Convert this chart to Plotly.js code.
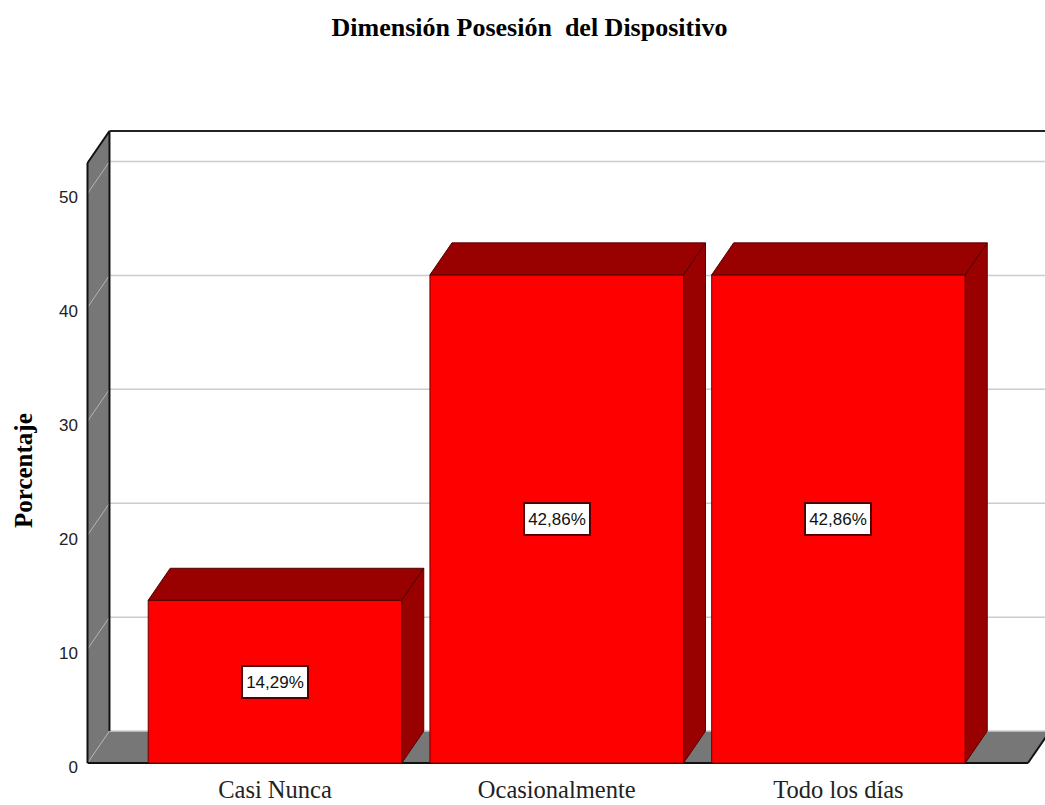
<!DOCTYPE html>
<html>
<head>
<meta charset="utf-8">
<script src="https://cdn.plot.ly/plotly-3.0.1.min.js"></script>
<style>html,body{margin:0;padding:0;background:#fff}#chart{width:1045px;height:805px}</style>
</head>
<body>
<div id="chart"></div>
<script>
const categories = ["Casi Nunca", "Ocasionalmente", "Todo los días"];
const positions = [1, 2, 3];
const percentages = [14.29, 42.86, 42.86];
const valueLabels = ["14,29%", "42,86%", "42,86%"];
const yTicks = [0, 10, 20, 30, 40, 50];

const barWidth = 0.9;
const depthX = 0.078;
const depthY = 2.81;
const wallLeft = 0.3345;
const floorRight = 3.6726;
const wallTop = 52.68;
const xRange = [0.3221, 3.733];
const yRange = [-0.26, 55.93];

const poly = pts => "M" + pts.map(p => p[0] + "," + p[1]).join(" L") + " Z";
const shapes = [];
const fillShape = (pts, fill) => shapes.push({type:"path", xref:"x", yref:"y", layer:"below",
  path: poly(pts), fillcolor: fill, line:{width:0}});
const lineShape = (x0,y0,x1,y1,color,width) => shapes.push({type:"line", xref:"x", yref:"y", layer:"below",
  x0,y0,x1,y1, line:{color,width}});

const wallBack = wallLeft + depthX;
// side wall and floor
fillShape([[wallLeft,0],[wallBack,depthY],[wallBack,wallTop+depthY],[wallLeft,wallTop]], "#777777");
fillShape([[wallLeft,0],[floorRight,0],[floorRight+depthX,depthY],[wallBack,depthY]], "#777777");
// gridlines on the back wall, continuing across the side wall
yTicks.forEach(t => {
  lineShape(wallBack, t+depthY, xRange[1], t+depthY, "#cccccc", 1.5);
  lineShape(wallLeft, t, wallBack, t+depthY, "#b4b4b4", 1);
});
// frame
lineShape(wallLeft, 0, wallLeft, wallTop, "#111111", 2);
lineShape(wallBack, depthY, wallBack, wallTop+depthY, "#111111", 2);
lineShape(wallLeft, wallTop, wallBack, wallTop+depthY, "#111111", 2);
lineShape(wallBack, wallTop+depthY, xRange[1], wallTop+depthY, "#222222", 2);
lineShape(wallLeft, 0, floorRight, 0, "#111111", 2);
lineShape(floorRight, 0, floorRight+depthX, depthY, "#111111", 2);

// top and side faces of every bar
const faceTraces = [];
positions.forEach((x,i) => {
  const v = percentages[i], l = x-barWidth/2, r = x+barWidth/2;
  const face = (xs,ys) => faceTraces.push({type:"scatter", mode:"lines", x:xs, y:ys, fill:"toself",
    fillcolor:"#990000", line:{color:"#550000", width:1}, hoverinfo:"skip", showlegend:false, cliponaxis:false});
  face([l, r, r+depthX, l+depthX, l], [v, v, v+depthY, v+depthY, v]);
  face([r, r+depthX, r+depthX, r, r], [0, depthY, v+depthY, v, 0]);
});

const bars = {type:"bar", x:positions, y:percentages, width:barWidth,
  marker:{color:"#ff0000", line:{color:"#660000", width:1}}, hoverinfo:"skip", showlegend:false};

const annotations = positions.map((x,i) => ({
  x, y: percentages[i]/2, xref:"x", yref:"y", text: valueLabels[i], showarrow:false,
  font:{family:"Liberation Sans", size:17, color:"#111111"},
  bgcolor:"#ffffff", bordercolor:"#550000", borderwidth:2, borderpad:0, width:64, height:30,
  xanchor:"center", yanchor:"middle"
}));
annotations.push({
  xref:"paper", yref:"paper", x:(23-84)/961, y:(805-39-471)/640, text:"<b>Porcentaje</b>", showarrow:false,
  textangle:-90, xanchor:"center", yanchor:"middle",
  font:{family:"Liberation Serif", size:25, color:"#000000"}
});

const layout = {
  width:1045, height:805, paper_bgcolor:"#ffffff", plot_bgcolor:"#ffffff", showlegend:false,
  margin:{l:84, r:0, t:126, b:39},
  title:{text:"Dimensión Posesión\u00A0\u00A0del Dispositivo", x:529.5/1045, xanchor:"center", y:1-27/805, yanchor:"middle",
    font:{family:"Liberation Serif", size:26, color:"#000000", weight:700}},
  xaxis:{range:xRange, tickmode:"array", tickvals:positions, ticktext:categories, showgrid:false, zeroline:false,
    showline:false, ticks:"", tickfont:{family:"Liberation Serif", size:24.5, color:"#222222"}, ticklabelstandoff:6},
  yaxis:{range:yRange, tickmode:"array", tickvals:yTicks, showgrid:false, zeroline:false, showline:false, ticks:"",
    tickfont:{family:"Liberation Sans", size:17, color:"#222222"}, ticklabelshift:4, ticklabelstandoff:5},
  shapes, annotations, bargap:0.1
};
Plotly.newPlot("chart", [bars].concat(faceTraces), layout, {displayModeBar:false, staticPlot:true});
</script>
</body>
</html>
